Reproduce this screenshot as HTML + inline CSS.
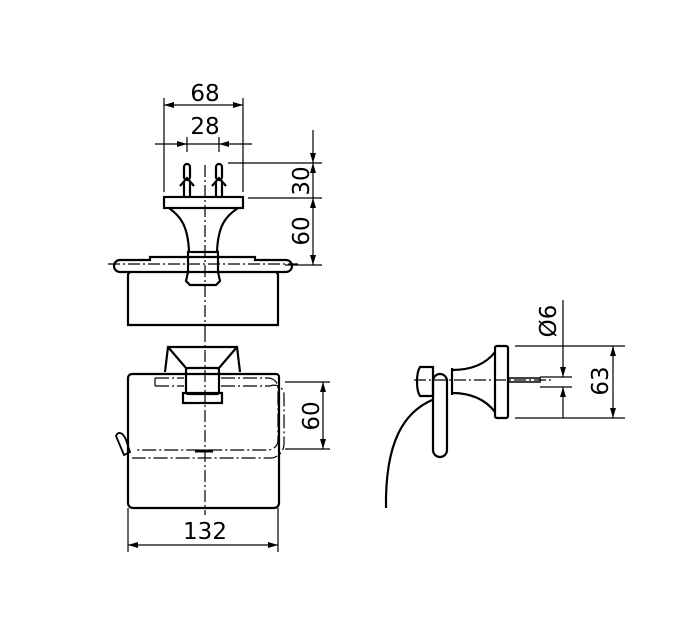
<!DOCTYPE html>
<html><head><meta charset="utf-8"><style>
html,body{margin:0;padding:0;background:#fff;width:692px;height:640px;overflow:hidden}
text{font-family:"DejaVu Sans","Liberation Sans",sans-serif;font-size:23px;fill:#000}
</style></head><body>
<svg width="692" height="640" viewBox="0 0 692 640" xmlns="http://www.w3.org/2000/svg">
<defs>
<marker id="a" viewBox="0 0 10 6" refX="10" refY="3" markerWidth="11" markerHeight="6" orient="auto-start-reverse" markerUnits="userSpaceOnUse"><path d="M0,0L10,3L0,6z" fill="#000"/></marker>
</defs>
<g fill="none" stroke="#000" stroke-width="1.2">
<line x1="164" y1="98" x2="164" y2="192"/><line x1="243" y1="98" x2="243" y2="192"/>
<line x1="164" y1="105" x2="243" y2="105" marker-start="url(#a)" marker-end="url(#a)"/>
<line x1="187" y1="137" x2="187" y2="152"/><line x1="219" y1="137" x2="219" y2="152"/>
<line x1="155" y1="144" x2="187" y2="144" marker-end="url(#a)"/>
<line x1="252" y1="144" x2="219" y2="144" marker-end="url(#a)"/>
<line x1="187" y1="144" x2="219" y2="144"/>
<line x1="228" y1="163" x2="322" y2="163"/><line x1="248" y1="198" x2="322" y2="198"/>
<line x1="313" y1="130" x2="313" y2="163" marker-end="url(#a)"/>
<line x1="313" y1="198" x2="313" y2="163" marker-end="url(#a)"/>
<line x1="313" y1="198" x2="313" y2="265" marker-start="url(#a)" marker-end="url(#a)"/>
<line x1="285" y1="265" x2="322" y2="265"/>
<line x1="205" y1="165" x2="205" y2="330" stroke-dasharray="12,3,2,3"/>
<line x1="108" y1="264" x2="298" y2="264" stroke-dasharray="12,3,2,3"/>
</g>
<g fill="none" stroke="#000" stroke-width="2.2">
<path d="M184,197V182M190,197V182M216,197V182M222,197V182"/>
<path d="M180,186L187,178L194,186M212,186L219,178L226,186"/>
<rect x="184" y="164" width="6" height="16" rx="3"/><rect x="216" y="164" width="6" height="16" rx="3"/>
<rect x="164" y="197" width="79" height="11"/>
<path d="M169,208C180,216 188,225 189,252M238,208C226,216 218,225 217,252"/>
<rect x="188" y="252" width="30" height="20"/>
<path d="M188,272L186,281L190,285H216L220,281L218,272"/>
<path d="M150,272H120A6,6 0 0 1 120,260H150V257H255V260H286A6,6 0 0 1 286,272H255"/>
<path d="M150,272H188M218,272H255"/>
<path d="M130,272A4,4 0 0 0 128,276V325H278V276A4,4 0 0 0 276,272"/>
<path d="M165,372L168,347H237L240,372"/>
<path d="M168,347L186,368M237,347L219,368"/>
<path d="M132,374H276A3,3 0 0 1 279,377V503A5,5 0 0 1 274,508H133A5,5 0 0 1 128,503V378A4,4 0 0 1 132,374Z"/>
<rect x="186" y="368" width="33" height="26" rx="2"/>
<rect x="183" y="393" width="39" height="10"/>
<path d="M116,436C118,431 123,432 126,440L130,452L124,455Z" stroke-width="1.8"/>
<rect x="495" y="346" width="13" height="72" rx="2"/>
<path d="M495,352C485,365 470,370 452,370M495,412C485,399 470,393 452,393"/>
<path d="M452,368V395"/>
<path d="M420,367H433V396H420C416,390 416,373 420,367Z"/>
<rect x="433" y="374" width="14" height="83" rx="7"/>
<path d="M432,400C405,412 385,440 386,508"/>
<path d="M508,378H540V382H508" stroke-width="1.5"/>
</g>
<g fill="none" stroke="#000" stroke-width="1.2">
<path d="M155,378H184M221,378H268A10,10 0 0 1 278,388V440A10,10 0 0 1 268,450H135" stroke-dasharray="14,3,2,3"/>
<path d="M155,386H184M221,386H270A10,10 0 0 1 284,396V444A14,14 0 0 1 270,458H132" stroke-dasharray="14,3,2,3"/>
<path d="M155,378V386"/>
<line x1="205" y1="330" x2="205" y2="515" stroke-dasharray="12,3,2,3"/>
<line x1="195" y1="451" x2="213" y2="451" stroke-width="3"/>
<line x1="285" y1="382" x2="330" y2="382"/><line x1="285" y1="449" x2="330" y2="449"/>
<line x1="323" y1="382" x2="323" y2="449" marker-start="url(#a)" marker-end="url(#a)"/>
<line x1="128" y1="508" x2="128" y2="552"/><line x1="278" y1="508" x2="278" y2="552"/>
<line x1="128" y1="545" x2="278" y2="545" marker-start="url(#a)" marker-end="url(#a)"/>
<line x1="414" y1="380" x2="552" y2="380" stroke-dasharray="12,3,2,3"/>
<line x1="515" y1="346" x2="625" y2="346"/><line x1="515" y1="418" x2="625" y2="418"/>
<line x1="613" y1="346" x2="613" y2="418" marker-start="url(#a)" marker-end="url(#a)"/>
<line x1="540" y1="377" x2="572" y2="377"/><line x1="540" y1="387" x2="572" y2="387"/>
<line x1="563" y1="300" x2="563" y2="377" marker-end="url(#a)"/>
<line x1="563" y1="418" x2="563" y2="387" marker-end="url(#a)"/>
</g>
<text x="205" y="101" text-anchor="middle">68</text>
<text x="205" y="134" text-anchor="middle">28</text>
<text transform="translate(309,181) rotate(-90)" text-anchor="middle">30</text>
<text transform="translate(309,231) rotate(-90)" text-anchor="middle">60</text>
<text transform="translate(319,416) rotate(-90)" text-anchor="middle">60</text>
<text x="205" y="539" text-anchor="middle">132</text>
<text transform="translate(556,321) rotate(-90)" text-anchor="middle">Ø6</text>
<text transform="translate(608,381) rotate(-90)" text-anchor="middle">63</text>
</svg>
</body></html>
